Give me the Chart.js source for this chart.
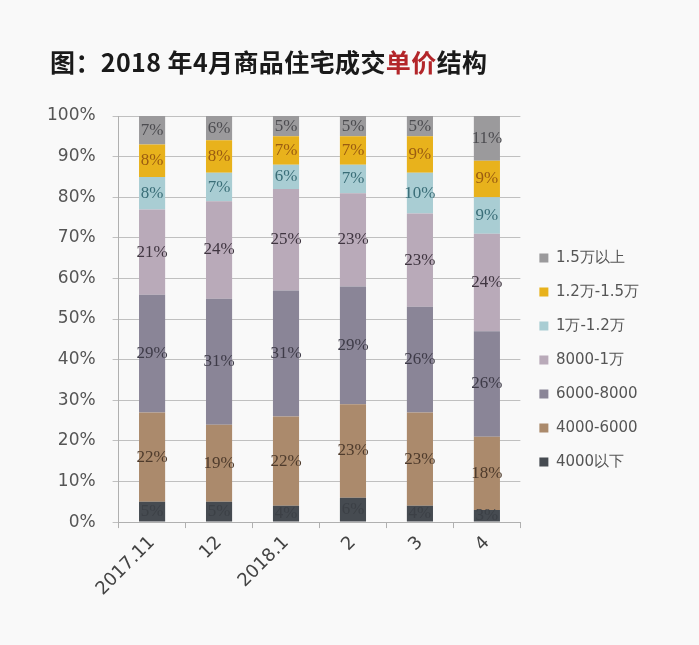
<!DOCTYPE html>
<html>
<head>
<meta charset="utf-8">
<script src="https://cdn.jsdelivr.net/npm/chart.js@4.4.1/dist/chart.umd.min.js"></script>
<style>
  html, body { margin: 0; padding: 0; background: #f9f9f9; }
  #wrap { position: relative; width: 699px; height: 645px; }
  #title {
    position: absolute; left: 50px; top: 43px;
    font: bold 25px "Noto Sans CJK SC", sans-serif; color: #1a1a1a;
    letter-spacing: 0.4px;
  }
  #title span { color: #b3262a; }
  canvas { position: absolute; left: 0; top: 0; }
</style>
</head>
<body>
<div id="wrap">
  <canvas id="chart" width="699" height="645"></canvas>
  <div id="title">图：2018 年4月商品住宅成交<span>单价</span>结构</div>
</div>
<script>
// months on the x axis
const months = ["2017.11", "12", "2018.1", "2", "3", "4"];

// share of deals per price band (%)
const below4000 = [5, 5, 4, 6, 4, 3];
const from4000to6000 = [22, 19, 22, 23, 23, 18];
const from6000to8000 = [29, 31, 31, 29, 26, 26];
const from8000to10k = [21, 24, 25, 23, 23, 24];
const from10kto12k = [8, 7, 6, 7, 10, 9];
const from12kto15k = [8, 8, 7, 7, 9, 9];
const above15k = [7, 6, 5, 5, 5, 11];

const yTicks = [0, 10, 20, 30, 40, 50, 60, 70, 80, 90, 100];

const series = [
  { label: "4000以下", data: below4000, color: "#464b51", text: "#3c4046" },
  { label: "4000-6000", data: from4000to6000, color: "#ab8a6c", text: "#4e3b2c" },
  { label: "6000-8000", data: from6000to8000, color: "#8a8597", text: "#3e3b48" },
  { label: "8000-1万", data: from8000to10k, color: "#b9aab9", text: "#3f3540" },
  { label: "1万-1.2万", data: from10kto12k, color: "#a9cdd3", text: "#3a6e78" },
  { label: "1.2万-1.5万", data: from12kto15k, color: "#e8b21c", text: "#9a5c12" },
  { label: "1.5万以上", data: above15k, color: "#9b9a9c", text: "#4c4c50" },
];

// draw the percentage in the middle of each segment
const segmentLabels = {
  id: "segmentLabels",
  afterDatasetsDraw(chart) {
    const ctx = chart.ctx;
    ctx.save();
    ctx.font = "17px 'Liberation Serif', serif";
    ctx.textAlign = "center";
    ctx.textBaseline = "middle";
    chart.data.datasets.forEach((ds, i) => {
      const meta = chart.getDatasetMeta(i);
      meta.data.forEach((bar, j) => {
        const midY = (bar.y + bar.base) / 2;
        ctx.fillStyle = series[i].text;
        ctx.fillText(ds.data[j] + "%", bar.x, midY);
      });
    });
    ctx.restore();
  },
};

new Chart(document.getElementById("chart"), {
  type: "bar",
  data: {
    labels: months,
    datasets: series.map((s) => ({
      label: s.label,
      data: s.data,
      backgroundColor: s.color,
      barPercentage: 0.78,
      categoryPercentage: 0.5,
    })),
  },
  options: {
    responsive: false,
    animation: false,
    layout: { padding: { top: 116, bottom: 41, left: 30, right: 50 } },
    scales: {
      x: {
        stacked: true,
        grid: {
          display: true,
          drawOnChartArea: false,
          offset: true,
          tickLength: 6,
          color: "#b0b0b0",
        },
        border: { color: "#b0b0b0" },
        ticks: {
          color: "#444",
          font: { family: "DejaVu Sans", size: 18 },
          maxRotation: 45,
          minRotation: 45,
          padding: 4,
        },
      },
      y: {
        stacked: true,
        min: 0,
        max: 100,
        afterBuildTicks: (axis) => {
          axis.ticks = yTicks.map((v) => ({ value: v }));
        },
        grid: { color: "#c0c0c0", tickLength: 6 },
        border: { color: "#b0b0b0" },
        ticks: {
          color: "#555",
          font: { family: "DejaVu Sans", size: 17 },
          padding: 17,
          callback: (v) => v + "%",
        },
      },
    },
    plugins: {
      legend: {
        position: "right",
        reverse: true,
        align: "center",
        labels: {
          boxWidth: 9,
          boxHeight: 9,
          padding: 19,
          color: "#555",
          font: { family: "DejaVu Sans", size: 15 },
        },
      },
      tooltip: { enabled: false },
    },
  },
  plugins: [segmentLabels],
});
</script>
</body>
</html>
